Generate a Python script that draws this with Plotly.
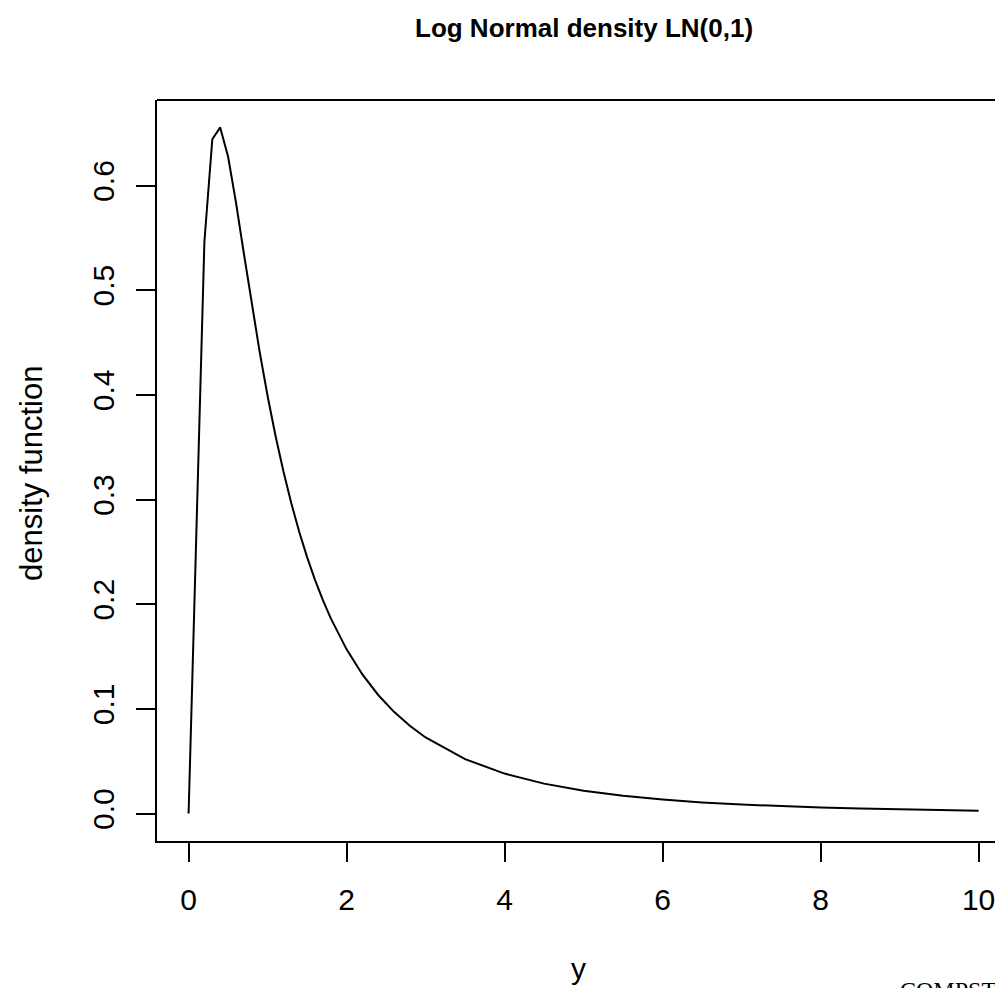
import plotly.graph_objects as go

# Values (log-normal LN(0,1) density)
y_grid = [0.0, 0.1, 0.2, 0.3, 0.4, 0.5, 0.6, 0.7, 0.8, 0.9, 1.0,
          1.1, 1.2, 1.3, 1.4, 1.5, 1.6, 1.7, 1.8, 1.9, 2.0,
          2.2, 2.4, 2.6, 2.8, 3.0, 3.5, 4.0, 4.5, 5.0, 5.5,
          6.0, 6.5, 7.0, 7.5, 8.0, 8.5, 9.0, 9.5, 10.0]
density = [0.0, 0.2816, 0.5463, 0.6442, 0.6555, 0.6275, 0.5836, 0.5348, 0.4864, 0.4408, 0.3989,
           0.3610, 0.3270, 0.2965, 0.2693, 0.2450, 0.2233, 0.2039, 0.1865, 0.1709, 0.1569,
           0.1329, 0.1133, 0.0972, 0.0839, 0.0727, 0.0520, 0.0382, 0.0286, 0.0219, 0.0170,
           0.0134, 0.0106, 0.0086, 0.0070, 0.0057, 0.0048, 0.0040, 0.0033, 0.0028]

x_ticks = [0, 2, 4, 6, 8, 10]
x_tick_labels = ["0", "2", "4", "6", "8", "10"]
y_ticks = [0.0, 0.1, 0.2, 0.3, 0.4, 0.5, 0.6]
y_tick_labels = ["0.0", "0.1", "0.2", "0.3", "0.4", "0.5", "0.6"]

FONT = "Liberation Sans, Arial, Helvetica, sans-serif"

fig = go.Figure()
fig.add_trace(go.Scatter(x=y_grid, y=density, mode="lines",
                         line=dict(color="black", width=2), showlegend=False,
                         hoverinfo="skip"))

fig.update_layout(
    width=995, height=988,
    margin=dict(l=157, r=0, t=100, b=147, pad=0),
    paper_bgcolor="white", plot_bgcolor="white",
    font=dict(family=FONT, color="black", size=30),
    showlegend=False,
)

fig.update_xaxes(
    range=[-0.4, 10.2076], showgrid=False, zeroline=False,
    showline=True, linecolor="black", linewidth=2, mirror=False,
    ticks="outside", ticklen=19, tickwidth=2, tickcolor="black",
    tickvals=x_ticks, ticktext=x_tick_labels,
    tickfont=dict(family=FONT, size=30, color="black"),
    ticklabelstandoff=12, ticklabeloverflow="allow",
)
fig.update_yaxes(
    range=[-0.0262, 0.6817], showgrid=False, zeroline=False,
    showline=True, linecolor="black", linewidth=2, mirror=False,
    ticks="outside", ticklen=19, tickwidth=2, tickcolor="black",
    tickvals=y_ticks, ticktext=y_tick_labels, tickangle=-90,
    tickfont=dict(family=FONT, size=30, color="black"),
    ticklabelstandoff=10,
)

# top border of the box (right side falls outside the window)
fig.add_shape(type="line", xref="paper", yref="paper", x0=0, x1=1.01, y0=1, y1=1,
              line=dict(color="black", width=2))

fig.add_annotation(text="<b>Log Normal density LN(0,1)</b>", xref="paper", yref="paper",
                   x=0.5095, y=1.0972, xanchor="center", yanchor="middle", showarrow=False,
                   font=dict(family=FONT, size=26, color="black"))
fig.add_annotation(text="y", xref="paper", yref="paper",
                   x=(578 - 157) / 838, y=-0.1714, xanchor="center", yanchor="middle",
                   showarrow=False, font=dict(family=FONT, size=30, color="black"))
fig.add_annotation(text="density function", xref="paper", yref="paper",
                   x=-0.1504, y=0.4966, xanchor="center", yanchor="middle", textangle=-90,
                   showarrow=False, font=dict(family=FONT, size=31, color="black"))
fig.add_annotation(text="COMPSTAT", xref="paper", yref="paper",
                   x=0.8843, y=-0.1808, xanchor="left", yanchor="top",
                   showarrow=False,
                   font=dict(family="Liberation Serif, Times New Roman, serif", size=24, color="black"))

fig.write_html("out.html")
